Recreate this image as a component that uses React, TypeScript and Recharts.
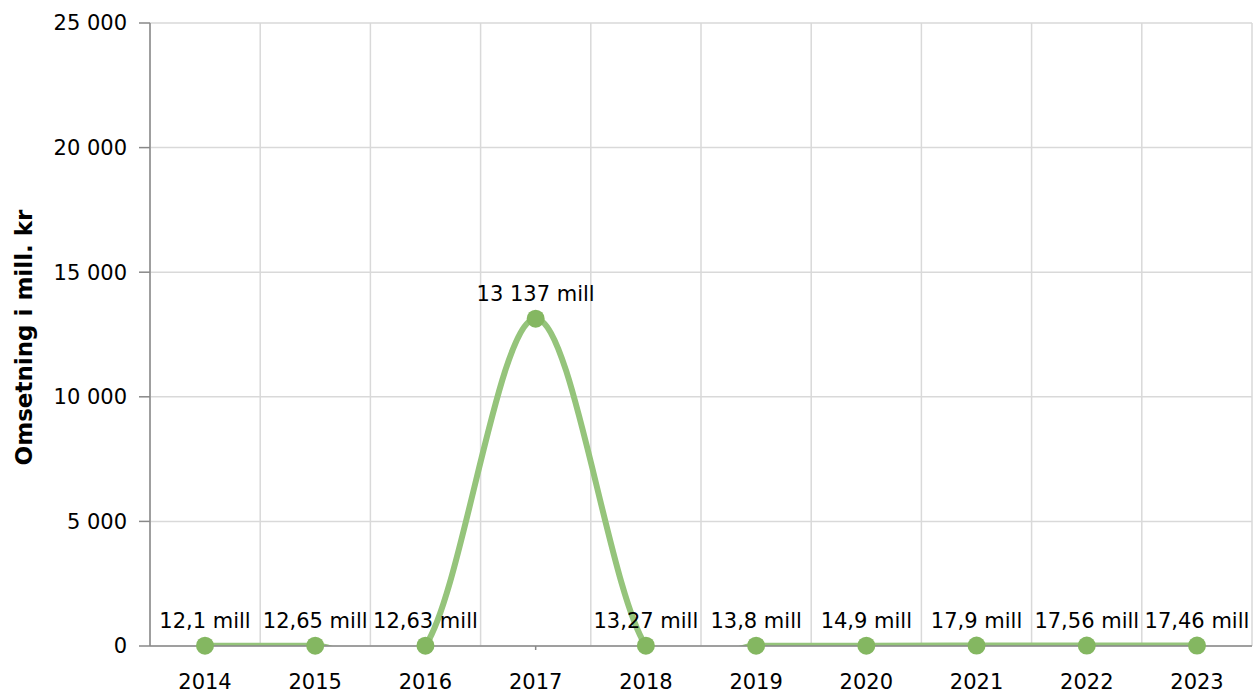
import { LineChart, Line, XAxis, YAxis, CartesianGrid, LabelList } from 'recharts';

const years = ['2014', '2015', '2016', '2017', '2018', '2019', '2020', '2021', '2022', '2023'];
const turnover = [12.1, 12.65, 12.63, 13137, 13.27, 13.8, 14.9, 17.9, 17.56, 17.46];
const yTicks = [0, 5000, 10000, 15000, 20000, 25000];

const data = years.map((year, i) => ({ year, value: turnover[i] }));

const spaced = (v: number) => Math.round(v).toString().replace(/\B(?=(\d{3})+(?!\d))/g, ' ');
const millLabel = (v: number) => (v >= 1000 ? spaced(v) : String(v).replace('.', ',')) + ' mill';

// catmull-rom style cardinal curve, like the original chart's smoothing
function cardinalCurve(context: any) {
  const k = 1 / 6;
  let x0 = NaN, x1 = NaN, x2 = NaN, y0 = NaN, y1 = NaN, y2 = NaN;
  let pt = 0;
  let line = NaN;
  const seg = (x: number, y: number) => {
    context.bezierCurveTo(
      x1 + k * (x2 - x0),
      y1 + k * (y2 - y0),
      x2 + k * (x1 - x),
      y2 + k * (y1 - y),
      x2,
      y2
    );
  };
  return {
    areaStart() { line = 0; },
    areaEnd() { line = NaN; },
    lineStart() { x0 = x1 = x2 = y0 = y1 = y2 = NaN; pt = 0; },
    lineEnd() {
      if (pt === 2) context.lineTo(x2, y2);
      else if (pt === 3) seg(x1, y1);
      if (line || (line !== 0 && pt === 1)) context.closePath();
      line = 1 - line;
    },
    point(x: number, y: number) {
      x = +x; y = +y;
      if (pt === 0) {
        pt = 1;
        line ? context.lineTo(x, y) : context.moveTo(x, y);
      } else if (pt === 1) {
        pt = 2;
        x1 = x; y1 = y;
      } else {
        pt = 3;
        seg(x, y);
      }
      x0 = x1; x1 = x2; x2 = x;
      y0 = y1; y1 = y2; y2 = y;
    },
  };
}

const AxisTitle = (props: any) => {
  const vb = props.viewBox || {};
  const cy = (vb.y ?? 23) + (vb.height ?? 623) / 2 + 3;
  const cx = 24;
  return (
    <text
      x={cx}
      y={cy}
      transform={`rotate(-90 ${cx} ${cy})`}
      textAnchor="middle"
      dominantBaseline="central"
      fontWeight="bold"
      fontSize={23}
      fill="#000"
    >
      Omsetning i mill. kr
    </text>
  );
};

export default function App() {
  return (
    <div style={{ position: 'absolute', left: 0, top: 0, fontFamily: '"DejaVu Sans", Verdana, sans-serif', fontSize: 21 }}>
      <LineChart width={1255} height={693} data={data} margin={{ top: 23, right: 3, bottom: 0, left: 0 }}>
        <CartesianGrid
          stroke="#d9d9d9"
          strokeWidth={1.5}
          verticalCoordinatesGenerator={({ offset }: any) =>
            years.concat('end').map((_, i) => offset.left + (offset.width * i) / years.length)
          }
        />
        <XAxis
          dataKey="year"
          padding={{ left: 55, right: 55 }}
          height={47}
          stroke="#888"
          strokeWidth={1.5}
          tickSize={4}
          tickMargin={24}
          tick={{ fill: '#000', fontSize: 21 }}
        />
        <YAxis
          width={150}
          domain={[0, 25000]}
          ticks={yTicks}
          allowDataOverflow
          stroke="#888"
          strokeWidth={1.5}
          tickSize={11}
          tickMargin={12}
          tick={{ fill: '#000', fontSize: 21 }}
          tickFormatter={spaced}
          label={{ content: AxisTitle }}
        />
        <Line
          type={cardinalCurve as any}
          dataKey="value"
          stroke="#95c47b"
          strokeWidth={6}
          dot={{ r: 9, fill: '#84b761', stroke: '#84b761', strokeWidth: 0, clipDot: false } as any}
          activeDot={false}
          isAnimationActive={false}
        >
          <LabelList
            dataKey="value"
            position="top"
            offset={18}
            fill="#000"
            fontSize={21}
            formatter={(v: any) => millLabel(Number(v))}
          />
        </Line>
      </LineChart>
    </div>
  );
}
